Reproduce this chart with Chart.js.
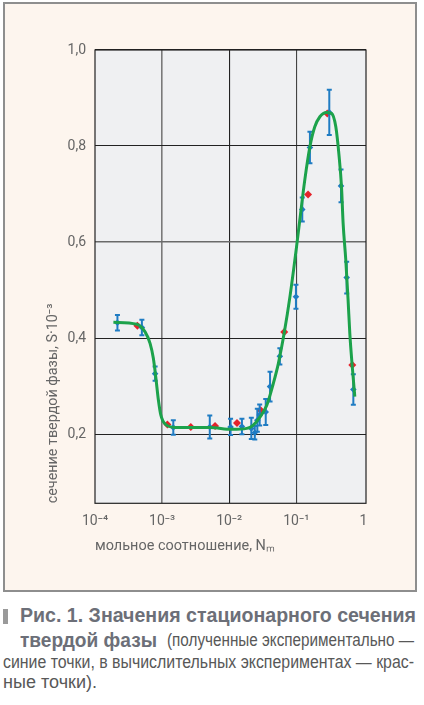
<!DOCTYPE html>
<html><head><meta charset="utf-8">
<script src="https://cdn.jsdelivr.net/npm/chart.js@4.4.1/dist/chart.umd.min.js"></script>
<style>
html,body{margin:0;padding:0;background:#fff;width:424px;height:705px;overflow:hidden;}
#panel{position:absolute;left:3px;top:2px;width:414px;height:590px;box-sizing:border-box;border:2px solid #8e8e8e;background:#fdf5ee;}
#c{position:absolute;left:0;top:0;}
.cap{position:absolute;display:inline-block;white-space:nowrap;font-family:"Liberation Sans",Arial,sans-serif;color:#585858;font-size:17.5px;line-height:1;transform-origin:0 0;}
.b{font-weight:bold;color:#6c6f78;font-size:20px;}
#sq{position:absolute;left:3px;top:609px;width:5px;height:15px;background:#9a9a9a;}
</style></head>
<body>
<div id="panel"></div>
<canvas id="c" width="424" height="595"></canvas>
<div id="sq"></div>
<div class="cap b" data-w="396" style="left:20px;top:605px">Рис. 1. Значения стационарного сечения</div>
<div class="cap b" data-w="137" style="left:20px;top:629.8px">твердой фазы</div>
<div class="cap" data-w="247" style="left:167px;top:631.9px">(полученные экспериментально —</div>
<div class="cap" data-w="411" style="left:3px;top:654.2px">синие точки, в вычислительных экспериментах — крас-</div>
<div class="cap" data-w="94" style="left:3px;top:674.2px">ные точки).</div>
<script>
// ---- data ----
const curveX = [1.88e-4, 4.2e-4, 5.58e-4, 6.62e-4, 7.41e-4, 8.05e-4, 8.81e-4, 9.57e-4, 1.11e-3, 1.56e-3, 5.19e-3, 1.09e-2, 1.83e-2, 2.29e-2, 2.89e-2, 3.63e-2, 4.56e-2, 5.41e-2, 6.65e-2, 8.09e-2, 0.101, 0.113, 0.134, 0.160, 0.189, 0.225, 0.283, 0.336, 0.389, 0.436, 0.473, 0.500, 0.548, 0.593, 0.629, 0.681, 0.747];
const curveY = [0.433, 0.429, 0.413, 0.389, 0.358, 0.319, 0.271, 0.240, 0.221, 0.214, 0.214, 0.210, 0.212, 0.219, 0.236, 0.260, 0.306, 0.347, 0.4125, 0.488, 0.590, 0.646, 0.729, 0.799, 0.840, 0.861, 0.870, 0.868, 0.840, 0.778, 0.715, 0.639, 0.5625, 0.479, 0.410, 0.344, 0.278];

const blueX = [2.16e-4, 5.0e-4, 7.87e-4, 1.47e-3, 5.14e-3, 1.05e-2, 1.55e-2, 2.14e-2, 2.41e-2, 2.63e-2, 2.85e-2, 3.51e-2, 4.07e-2, 5.7e-2, 9.9e-2, 0.123, 0.160, 0.311, 0.465, 0.565, 0.71];
const blueY = [0.432, 0.422, 0.326, 0.214, 0.215, 0.215, 0.216, 0.212, 0.203, 0.229, 0.240, 0.246, 0.299, 0.362, 0.486, 0.668, 0.797, 0.870, 0.717, 0.526, 0.293];
const blueErr = [0.016, 0.016, 0.015, 0.015, 0.024, 0.017, 0.016, 0.022, 0.014, 0.024, 0.022, 0.027, 0.031, 0.017, 0.025, 0.025, 0.033, 0.047, 0.034, 0.033, 0.032];

const redX = [4.28e-4, 1.2e-3, 2.68e-3, 6.17e-3, 1.31e-2, 2.95e-2, 6.62e-2, 0.150, 0.290, 0.686];
const redY = [0.426, 0.220, 0.215, 0.217, 0.223, 0.250, 0.4125, 0.699, 0.868, 0.344];

const xTickValues = [1e-4, 1e-3, 1e-2, 1e-1, 1];
const xTickLabels = ['10⁻⁴', '10⁻³', '10⁻²', '10⁻¹', '1'];
const yTickValues = [0.2, 0.4, 0.6, 0.8, 1.0];
const yTickLabels = ['0,2', '0,4', '0,6', '0,8', '1,0'];

const xTitle = 'мольное соотношение, Nₘ';
const yTitle = 'сечение твердой фазы, S·10⁻³';

// ---- styling ----
const FONT = 'Roboto, "Liberation Sans", Arial, sans-serif';
const GREEN = '#1ca24b', BLUE = '#1f7cc3', RED = '#e5232b';

// fit caption lines to their widths (condensed look)
document.querySelectorAll('.cap').forEach(el => {
  const w = el.getBoundingClientRect().width;
  const k = parseFloat(el.dataset.w) / w;
  el.style.transform = 'scaleX(' + k + ')';
});

// choose title font sizes so that the titles span the same length as in the reference
const mctx = document.createElement('canvas').getContext('2d');
function fitSize(text, target) {
  mctx.font = '100px ' + FONT;
  return 100 * target / mctx.measureText(text).width;
}
const xTitleSize = fitSize(xTitle, 180);
const yTitleSize = fitSize(yTitle, 200);

const zip = (xs, ys) => xs.map((x, i) => ({x: x, y: ys[i]}));

const plotBg = {
  id: 'plotBg',
  beforeDraw(chart) {
    const {ctx, chartArea: a} = chart;
    ctx.save();
    ctx.fillStyle = '#eff0f2';
    ctx.fillRect(a.left, a.top, a.right - a.left, a.bottom - a.top);
    ctx.restore();
  },
  beforeDatasetsDraw(chart) {
    const {ctx, chartArea: a} = chart;
    ctx.save();
    ctx.strokeStyle = '#222';
    ctx.lineWidth = 1.2;
    ctx.strokeRect(a.left, a.top, a.right - a.left, a.bottom - a.top);
    ctx.restore();
  }
};

const errorBars = {
  id: 'errorBars',
  beforeDatasetDraw(chart, args) {
    if (args.index !== 1) return;
    const {ctx, scales: {x, y}} = chart;
    ctx.save();
    ctx.strokeStyle = BLUE;
    ctx.lineWidth = 2;
    blueX.forEach((bx, i) => {
      const px = x.getPixelForValue(bx);
      const yt = y.getPixelForValue(blueY[i] + blueErr[i]);
      const yb = y.getPixelForValue(blueY[i] - blueErr[i]);
      ctx.beginPath();
      ctx.moveTo(px, yt); ctx.lineTo(px, yb);
      ctx.moveTo(px - 2.5, yt); ctx.lineTo(px + 2.5, yt);
      ctx.moveTo(px - 2.5, yb); ctx.lineTo(px + 2.5, yb);
      ctx.stroke();
    });
    ctx.restore();
  }
};

new Chart(document.getElementById('c'), {
  type: 'scatter',
  data: {
    datasets: [
      {
        label: 'расчёт (кривая)',
        data: zip(curveX, curveY),
        showLine: true,
        borderColor: GREEN,
        borderWidth: 3,
        pointRadius: 0,
        cubicInterpolationMode: 'monotone',
        fill: false
      },
      {
        label: 'эксперимент',
        data: zip(blueX, blueY),
        pointStyle: 'rectRot',
        pointRadius: 3.3,
        backgroundColor: BLUE,
        borderColor: BLUE,
        borderWidth: 0
      },
      {
        label: 'вычислительный эксперимент',
        data: zip(redX, redY),
        pointStyle: 'rectRot',
        pointRadius: 4,
        backgroundColor: RED,
        borderColor: RED,
        borderWidth: 0
      }
    ]
  },
  options: {
    responsive: false,
    animation: false,
    events: [],
    layout: {padding: {left: 0, top: 50, right: 58, bottom: 31.7}},
    plugins: {legend: {display: false}, tooltip: {enabled: false}},
    scales: {
      x: {
        type: 'logarithmic',
        min: 1e-4,
        max: Math.pow(10, 0.04),
        afterBuildTicks(scale) { scale.ticks = xTickValues.map(v => ({value: v})); },
        afterFit(scale) { scale.height = 60; },
        border: {display: false},
        grid: {
          drawTicks: false,
          color: ctx => {
            const v = ctx.tick && ctx.tick.value;
            if (v === 1e-3) return '#7a7a7a';
            if (v === 1e-2) return '#222';
            if (v === 1e-1) return '#444';
            return 'rgba(0,0,0,0)';
          },
          lineWidth: ctx => {
            const v = ctx.tick && ctx.tick.value;
            return v === 1e-3 ? 1.6 : 1.1;
          }
        },
        ticks: {
          autoSkip: false,
          maxRotation: 0,
          padding: 10,
          color: '#666',
          font: {family: FONT, size: 14},
          callback: (v, i) => xTickLabels[i]
        },
        title: {
          display: true,
          text: xTitle,
          align: 'start',
          color: '#666',
          font: {family: FONT, size: xTitleSize},
          padding: {top: 0, bottom: 12.3 - 0.2535 * xTitleSize}
        }
      },
      y: {
        type: 'linear',
        min: 0.056,
        max: 1.0,
        afterBuildTicks(scale) { scale.ticks = yTickValues.map(v => ({value: v})); },
        afterFit(scale) { scale.width = 95; },
        border: {display: false},
        grid: {
          drawTicks: false,
          color: ctx => {
            const v = ctx.tick && ctx.tick.value;
            if (v === 0.6) return '#6a6a6a';
            return '#222';
          },
          lineWidth: ctx => (ctx.tick && ctx.tick.value === 0.6) ? 1.6 : 1.1
        },
        ticks: {
          autoSkip: false,
          padding: 9,
          color: '#666',
          font: {family: FONT, size: 14},
          callback: (v, i) => yTickLabels[i]
        },
        title: {
          display: true,
          text: yTitle,
          align: 'start',
          color: '#666',
          font: {family: FONT, size: yTitleSize},
          padding: {top: 58.3 - 0.3465 * yTitleSize - 0.6 * yTitleSize, bottom: 0}
        }
      }
    }
  },
  plugins: [plotBg, errorBars]
});
</script>
</body></html>
